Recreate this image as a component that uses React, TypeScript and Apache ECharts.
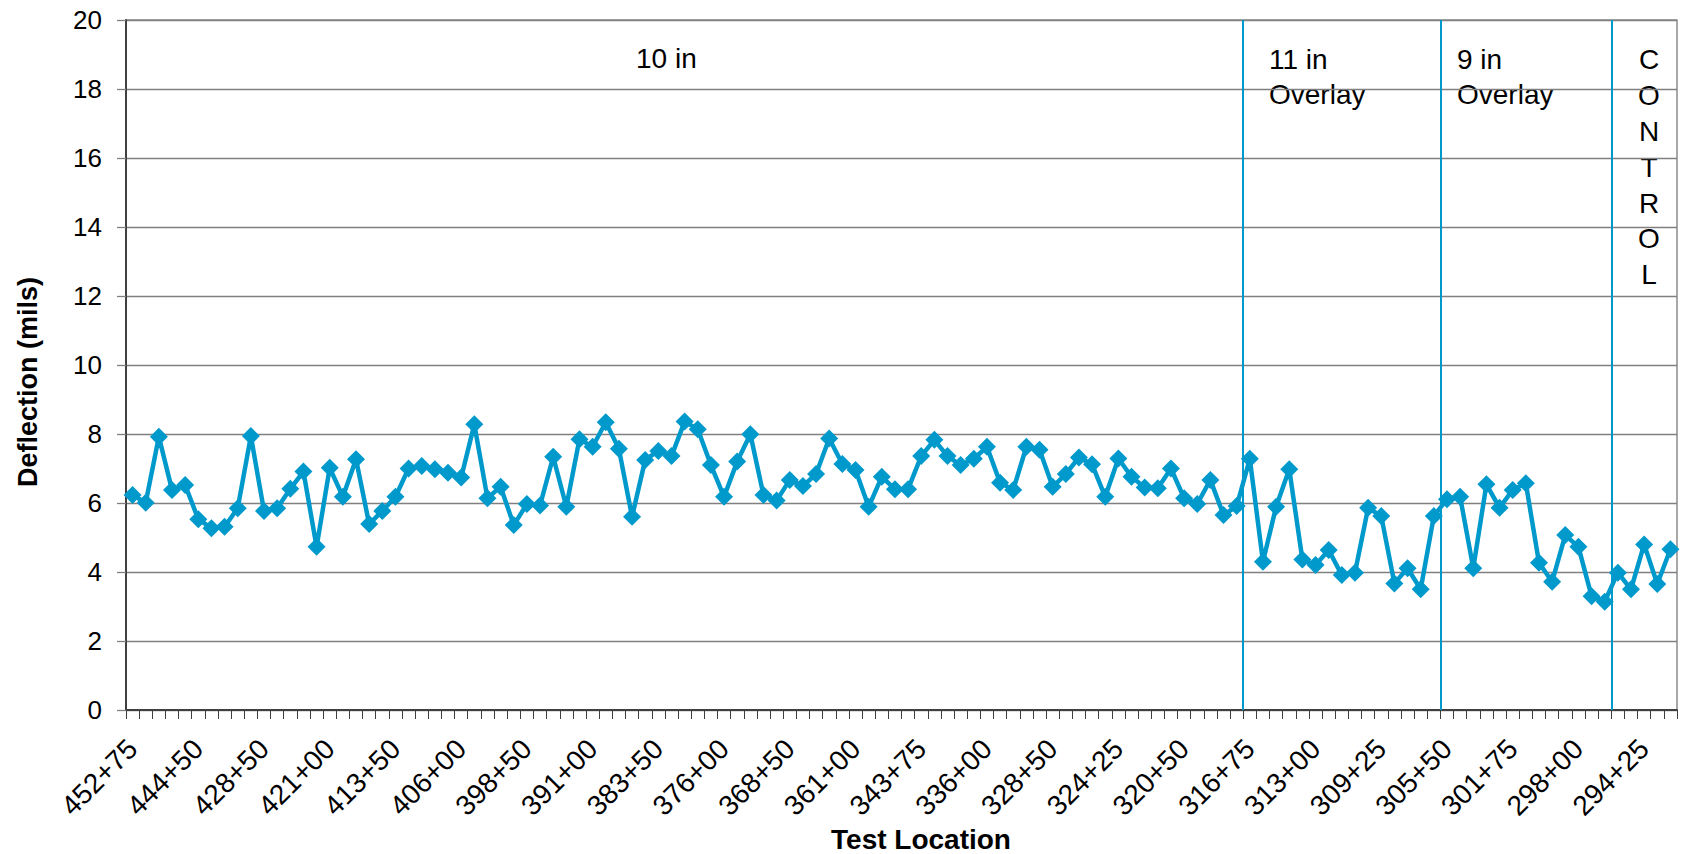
import React, { useEffect, useRef } from "react";
import * as echarts from "echarts";

// Test locations (stations), every 5th one is labelled on the axis
const categories: string[] = [
  "452+75", "451+00", "449+50", "447+75", "446+25",
  "444+50", "441+25", "438+00", "434+75", "431+50",
  "428+50", "427+00", "425+50", "424+00", "422+50",
  "421+00", "419+50", "418+00", "416+50", "415+00",
  "413+50", "412+00", "410+50", "409+00", "407+50",
  "406+00", "404+50", "403+00", "401+50", "400+00",
  "398+50", "397+00", "395+50", "394+00", "392+50",
  "391+00", "389+50", "388+00", "386+50", "385+00",
  "383+50", "382+00", "380+50", "379+00", "377+50",
  "376+00", "374+50", "373+00", "371+50", "370+00",
  "368+50", "367+00", "365+50", "364+00", "362+50",
  "361+00", "357+50", "354+00", "350+75", "347+25",
  "343+75", "342+25", "340+75", "339+00", "337+50",
  "336+00", "334+50", "333+00", "331+50", "330+00",
  "328+50", "327+75", "326+75", "325+75", "325+00",
  "324+25", "323+50", "322+75", "322+00", "321+25",
  "320+50", "319+75", "319+00", "318+25", "317+50",
  "316+75", "316+00", "315+25", "314+50", "313+75",
  "313+00", "312+25", "311+50", "310+75", "310+00",
  "309+25", "308+50", "307+75", "307+00", "306+25",
  "305+50", "304+75", "304+00", "303+25", "302+50",
  "301+75", "301+00", "300+25", "299+50", "298+75",
  "298+00", "297+25", "296+50", "295+75", "295+00",
  "294+25", "293+50", "292+75",
];

// Deflection in mils
const deflection: number[] = [
  6.23, 6.01, 7.92, 6.38, 6.52, 5.53, 5.27, 5.31, 5.85, 7.94,
  5.77, 5.85, 6.41, 6.91, 4.73, 7.02, 6.18, 7.27, 5.39, 5.77,
  6.18, 7.0, 7.07, 6.98, 6.88, 6.74, 8.28, 6.14, 6.47, 5.36,
  5.97, 5.93, 7.34, 5.89, 7.85, 7.63, 8.34, 7.57, 5.6, 7.25,
  7.51, 7.36, 8.36, 8.14, 7.1, 6.18, 7.2, 7.99, 6.23, 6.07,
  6.67, 6.49, 6.84, 7.87, 7.13, 6.96, 5.89, 6.76, 6.4, 6.4,
  7.36, 7.83, 7.36, 7.1, 7.28, 7.63, 6.59, 6.38, 7.63, 7.54,
  6.47, 6.84, 7.32, 7.12, 6.18, 7.29, 6.76, 6.45, 6.43, 7.0,
  6.14, 5.97, 6.67, 5.65, 5.91, 7.28, 4.3, 5.89, 6.98, 4.36,
  4.2, 4.64, 3.91, 3.98, 5.86, 5.62, 3.67, 4.11, 3.5, 5.62,
  6.11, 6.18, 4.11, 6.54, 5.86, 6.38, 6.57, 4.27, 3.72, 5.07,
  4.73, 3.3, 3.14, 3.98, 3.5, 4.8, 3.65, 4.66,
];

// Section boundaries (category index where a new section starts)
const sectionBoundaries: number[] = [85, 100, 113];

const yMin = 0;
const yMax = 20;
const yInterval = 2;

const BLUE = "#0099CC";
const FONT = "Liberation Sans, Arial, sans-serif";

export default function App() {
  const ref = useRef<HTMLDivElement>(null);

  useEffect(() => {
    document.body.style.margin = "0";
    const chart = echarts.init(ref.current!, undefined, { renderer: "svg" });
    const N = categories.length;

    const annot = (text: string, x: number, y: number, align: string, lh: number) => ({
      type: "text",
      x,
      y,
      style: {
        text,
        font: `28px ${FONT}`,
        lineHeight: lh,
        fill: "#000",
        textAlign: align,
        textVerticalAlign: "top",
      },
    });

    chart.setOption({
      animation: false,
      backgroundColor: "#ffffff",
      textStyle: { fontFamily: FONT },
      grid: {
        left: 126,
        right: 8,
        top: 20,
        bottom: 144,
        containLabel: false,
        show: true,
        borderColor: "#8c8c8c",
        borderWidth: 1.5,
        backgroundColor: "transparent",
      },
      xAxis: [
        {
          type: "category",
          data: categories,
          boundaryGap: true,
          axisLine: { show: true, lineStyle: { color: "#404040", width: 2 } },
          axisTick: {
            show: true,
            interval: 0,
            length: 9,
            lineStyle: { color: "#404040", width: 1 },
          },
          axisLabel: {
            interval: 4,
            rotate: 45,
            fontSize: 28,
            margin: 34,
            color: "#000",
            fontFamily: FONT,
          },
          splitLine: { show: false },
        },
        {
          type: "value",
          min: 0,
          max: N,
          show: false,
          splitLine: { show: false },
        },
      ],
      yAxis: {
        type: "value",
        min: yMin,
        max: yMax,
        interval: yInterval,
        axisLine: { show: true, lineStyle: { color: "#404040", width: 2 } },
        axisTick: { show: true, length: 9, lineStyle: { color: "#808080", width: 1.3 } },
        axisLabel: { fontSize: 26, margin: 24, color: "#000", fontFamily: FONT },
        splitLine: { show: true, lineStyle: { color: "#808080", width: 1.3 } },
      },
      series: [
        {
          type: "line",
          data: deflection,
          xAxisIndex: 0,
          yAxisIndex: 0,
          symbol: "diamond",
          symbolSize: 18,
          showAllSymbol: true,
          lineStyle: { color: BLUE, width: 4.5 },
          itemStyle: { color: BLUE },
          z: 3,
        },
        {
          type: "line",
          xAxisIndex: 1,
          yAxisIndex: 0,
          data: [],
          silent: true,
          markLine: {
            silent: true,
            symbol: "none",
            label: { show: false },
            lineStyle: { color: BLUE, width: 2, type: "solid" },
            data: sectionBoundaries.map((b) => ({ xAxis: b })),
          },
          z: 2,
        },
      ],
      graphic: [
        {
          type: "text",
          x: 28,
          y: 382,
          rotation: Math.PI / 2,
          style: {
            text: "Deflection (mils)",
            font: `bold 27px ${FONT}`,
            fill: "#000",
            textAlign: "center",
            textVerticalAlign: "middle",
          },
        },
        {
          type: "text",
          x: 921,
          y: 839,
          style: {
            text: "Test Location",
            font: `bold 28px ${FONT}`,
            fill: "#000",
            textAlign: "center",
            textVerticalAlign: "middle",
          },
        },
        annot("10 in", 636, 41, "left", 35),
        annot("11 in\nOverlay", 1269, 42, "left", 35),
        annot("9 in\nOverlay", 1457, 42, "left", 35),
        annot("C\nO\nN\nT\nR\nO\nL", 1649, 42, "center", 35.8),
      ],
    });

    return () => chart.dispose();
  }, []);

  return <div ref={ref} style={{ width: 1685, height: 854 }} />;
}
